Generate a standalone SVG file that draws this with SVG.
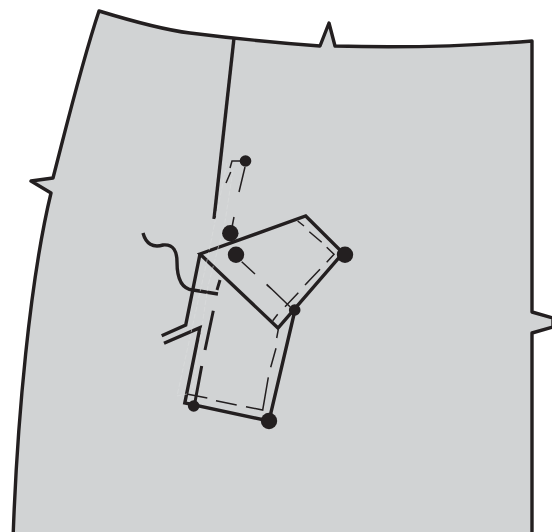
<svg xmlns="http://www.w3.org/2000/svg" width="552" height="532" viewBox="0 0 552 532">
<style>
.o{fill:none;stroke:#231f20;stroke-width:3.4;stroke-linejoin:miter}
.t{fill:none;stroke:#231f20;stroke-width:3}
.d{fill:none;stroke:#231f20;stroke-width:1.5}
.w{fill:none;stroke:#dcddde;stroke-width:.6;stroke-dasharray:5 2}
.p{fill:#231f20}
</style>
<rect width="552" height="532" fill="#fff"/>
<g id="garment">
<path d="M99 11C135 22 165 30 190 33C230 38 280 43 320 46L329 23L335 46C400 48 470 46 532 41V312L553 318V327L532 333V540H13C17 420 30 280 51 193L31 181L53 178C68 120 82 62 99 11Z" fill="#d1d3d4" stroke="#231f20" stroke-width="3.400" stroke-linejoin="round"/>
</g>
<g id="connectors">
<path class="o" d="M234 38L214 219"/>
<path class="o" d="M200 254L305.700 216L343 253L278 328L200 254Z"/>
<path class="o" d="M200 254L185.700 325L161.700 335.700M164 343.300L200 327.700L184.800 403L269 421L295 310"/>
<path class="o" d="M143 233C146 244 153 248 163 245C174 244 177 252 177 262C177 277 181 289 193 290L218 294"/>
<path class="w" d="M227 163L208 256L177 396L187 394M233 170L225 222L208 286L192 393"/>
<path class="d" d="M245 167L239 192M234 217L232 227M240 161H232L230 168M230.700 172L226 183"/>
<path class="d" d="M241.700 261.700L255 274M266.700 285L272.700 290M297.700 221L304 226M309.300 231.700L321.700 242.300M326.700 247.300L334 254.300L326.700 262.300M320 269.300L305.700 284.300M308 282L305 285M298.300 292.700L285 306.700M266.700 284.300L290 306.700M277.700 314.300L272.700 320.700"/>
<path class="d" d="M278.300 329.300L276.700 338M276 348.300L270.700 367.300M268.300 377.300L265 396.700L262.700 410L246 406.700M236.700 405L216 400.700M207.300 398L188 394.300"/>
<path class="t" d="M220 280L217 290M213.300 310.700L205 350M201.700 366L195 402"/>
</g>
<g id="dot1"><circle class="p" cx="245.500" cy="161" r="5.800"/></g>
<g id="dot2"><circle class="p" cx="230.300" cy="233.300" r="8.200"/></g>
<g id="dot3"><circle class="p" cx="236" cy="254.700" r="8.200"/></g>
<g id="dot4"><circle class="p" cx="345" cy="254.700" r="8.200"/></g>
<g id="dot5"><circle class="p" cx="294.700" cy="310" r="5.800"/></g>
<g id="dot6"><circle class="p" cx="269" cy="421" r="8.200"/></g>
<g id="dot7"><circle class="p" cx="193.700" cy="406" r="5.800"/></g>
</svg>
